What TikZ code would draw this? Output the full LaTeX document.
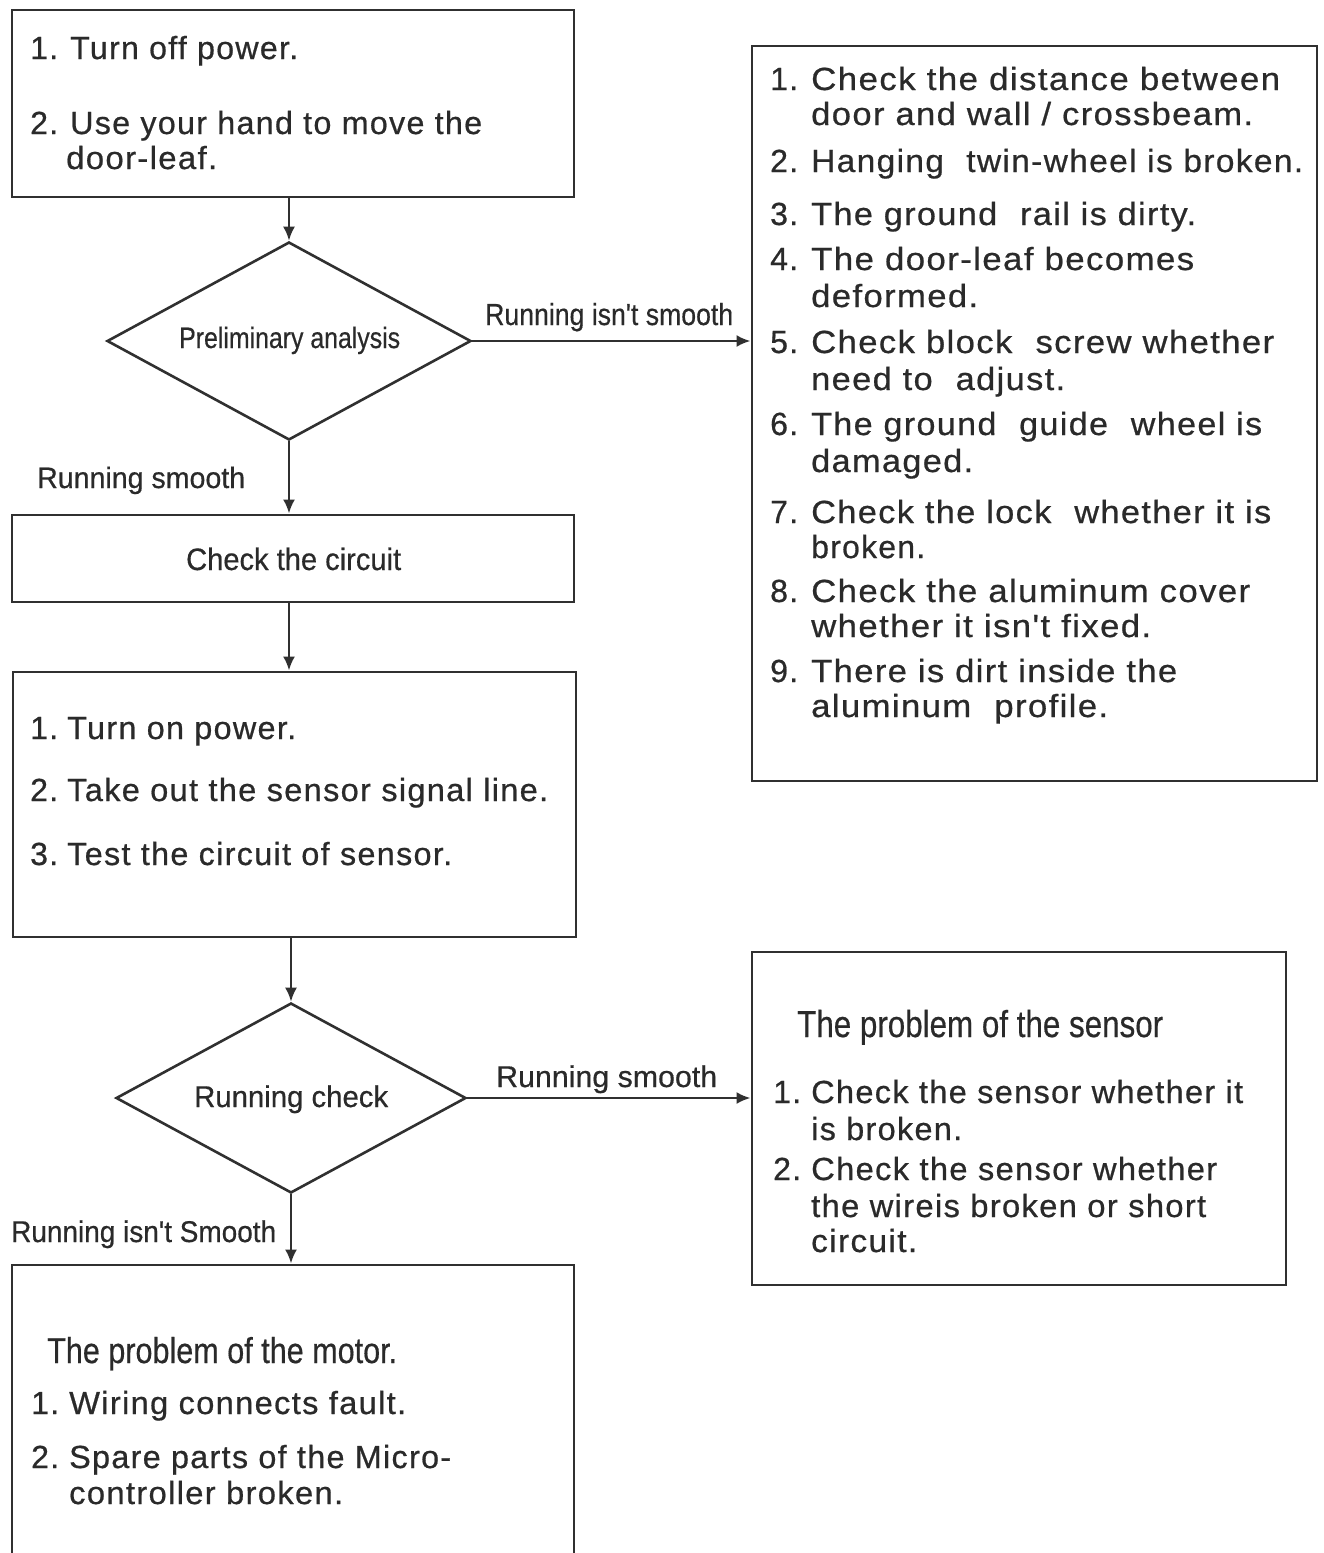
\documentclass[tikz,border=0pt]{standalone}
\usepackage{fontspec}
\usepackage{graphicx}
\setmainfont{Liberation Sans}
\newfontfamily\mainf[LetterSpace=4,FakeBold=0.6]{Liberation Sans}
\newfontfamily\lblf[FakeBold=0.5]{Liberation Sans}
\usetikzlibrary{shapes.geometric,arrows.meta,fit}
\definecolor{ink}{HTML}{2A2A2A}
\definecolor{edge}{HTML}{303030}
\newcommand\fw[2]{\resizebox{#1pt}{\height}{#2}}
\newcommand\lsz[1]{\lblf\fontsize{#1}{#1}\selectfont}
\begin{document}
\begin{tikzpicture}[x=1pt,y=-1pt,
  box/.style={draw=edge, line width=2.9pt, inner sep=0pt},
  dia/.style={diamond, draw=edge, line width=2.6pt, inner sep=0pt},
  arr/.style={draw=edge, line width=2.5pt, -{Latex[length=14pt,width=12pt]}},
  txt/.style={anchor=base west, inner sep=0pt, text=ink, font=\mainf\fontsize{32}{32}\selectfont},
  lbl/.style={anchor=base west, inner sep=0pt, text=ink}]
\path[use as bounding box] (0,0) rectangle (1323,1553);
\clip (0,0) rectangle (1323,1553);
\fill[white] (0,0) rectangle (1323,1553);

% boxes
\node[box, fit={(12,10) (574,197)}] (b1) {};
\node[dia, minimum width=364pt, minimum height=198pt] (d1) at (289,341) {};
\node[box, fit={(12,515) (574,602)}] (b2) {};
\node[box, fit={(13,672) (576,937)}] (b3) {};
\node[dia, minimum width=350pt, minimum height=190pt] (d2) at (291,1098) {};
\node[box, fit={(12,1265) (574,1600)}] (b6) {};
\node[box, fit={(752,46) (1317,781)}] (b4) {};
\node[box, fit={(752,952) (1286,1285)}] (b5) {};

% connectors
\draw[arr] (d1.north |- b1.south) -- (d1.north);
\draw[arr] (d1.south) -- (d1.south |- b2.north);
\draw[arr] (d1.south |- b2.south) -- (d1.south |- b3.north);
\draw[arr] (d2.north |- b3.south) -- (d2.north);
\draw[arr] (d2.south) -- (d2.south |- b6.north);
\draw[arr] (d1.east) -- (d1.east -| b4.west);
\draw[arr] (d2.east) -- (d2.east -| b5.west);

% labels
\node[lbl, font=\lsz{29.5}] (lpa) at (179,348) {\fw{221}{Preliminary analysis}};
\node[lbl, font=\lsz{30.5}] (lrn1) at (485,325) {\fw{248}{Running isn't smooth}};
\node[lbl, font=\lsz{29.5}] (lrs1) at (37,488) {\fw{208}{Running smooth}};
\node[lbl, font=\lsz{31}] (lcc) at (186,570) {\fw{215}{Check the circuit}};
\node[lbl, font=\lsz{30}] (lrc) at (194,1107) {\fw{194}{Running check}};
\node[lbl, font=\lsz{30}] (lrs2) at (496,1087) {\fw{221}{Running smooth}};
\node[lbl, font=\lsz{30}] (lrn2) at (11,1242) {\fw{265}{Running isn't Smooth}};
\node[lbl, font=\lsz{37.5}] (lps) at (797,1037) {\fw{366}{The problem of the sensor}};
\node[lbl, font=\lsz{36}] (lpm) at (47,1363) {\fw{350}{The problem of the motor.}};

% box 1 text
\node[txt] (a1n) at (30,59) {1.};
\node[txt] (a1t) at (70,59) {\fw{228}{Turn off power.}};
\node[txt] (a2n) at (30,134) {2.};
\node[txt] (a2t) at (70,134) {\fw{412}{Use your hand to move the}};
\node[txt] (a2u) at (66,169) {\fw{151}{door-leaf.}};

% box 4 text
\node[txt] (c1n) at (770,90) {1.};
\node[txt] (c1t) at (811,90) {\fw{469}{Check the distance between}};
\node[txt] (c1u) at (811,125) {\fw{442}{door and wall / crossbeam.}};
\node[txt] (c2n) at (770,172) {2.};
\node[txt] (c2t) at (811,172) {\fw{492}{Hanging\hspace{0.35em} twin-wheel is broken.}};
\node[txt] (c3n) at (770,225) {3.};
\node[txt] (c3t) at (811,225) {\fw{385}{The ground\hspace{0.35em} rail is dirty.}};
\node[txt] (c4n) at (770,270) {4.};
\node[txt] (c4t) at (811,270) {\fw{383}{The door-leaf becomes}};
\node[txt] (c4u) at (811,307) {\fw{167}{deformed.}};
\node[txt] (c5n) at (770,353) {5.};
\node[txt] (c5t) at (811,353) {\fw{463}{Check block\hspace{0.35em} screw whether}};
\node[txt] (c5u) at (811,390) {\fw{254}{need to\hspace{0.35em} adjust.}};
\node[txt] (c6n) at (770,435) {6.};
\node[txt] (c6t) at (811,435) {\fw{451}{The ground\hspace{0.35em} guide\hspace{0.35em} wheel is}};
\node[txt] (c6u) at (811,472) {\fw{162}{damaged.}};
\node[txt] (c7n) at (770,523) {7.};
\node[txt] (c7t) at (811,523) {\fw{460}{Check the lock\hspace{0.35em} whether it is}};
\node[txt] (c7u) at (811,558) {\fw{114}{broken.}};
\node[txt] (c8n) at (770,602) {8.};
\node[txt] (c8t) at (811,602) {\fw{439}{Check the aluminum cover}};
\node[txt] (c8u) at (811,637) {\fw{340}{whether it isn't fixed.}};
\node[txt] (c9n) at (770,682) {9.};
\node[txt] (c9t) at (811,682) {\fw{366}{There is dirt inside the}};
\node[txt] (c9u) at (811,717) {\fw{297}{aluminum\hspace{0.35em} profile.}};

% box 3 text
\node[txt] (e1n) at (30,739) {1.};
\node[txt] (e1t) at (67,739) {\fw{229}{Turn on power.}};
\node[txt] (e2n) at (30,801) {2.};
\node[txt] (e2t) at (67,801) {\fw{481}{Take out the sensor signal line.}};
\node[txt] (e3n) at (30,865) {3.};
\node[txt] (e3t) at (67,865) {\fw{385}{Test the circuit of sensor.}};

% box 5 text
\node[txt] (s1n) at (773,1103) {1.};
\node[txt] (s1t) at (811,1103) {\fw{432}{Check the sensor whether it}};
\node[txt] (s1u) at (811,1140) {\fw{151}{is broken.}};
\node[txt] (s2n) at (773,1180) {2.};
\node[txt] (s2t) at (811,1180) {\fw{406}{Check the sensor whether}};
\node[txt] (s2u) at (811,1217) {\fw{395}{the wireis broken or short}};
\node[txt] (s2v) at (811,1252) {\fw{106}{circuit.}};

% box 6 text
\node[txt] (m1n) at (31,1414) {1.};
\node[txt] (m1t) at (69,1414) {\fw{337}{Wiring connects fault.}};
\node[txt] (m2n) at (31,1468) {2.};
\node[txt] (m2t) at (69,1468) {\fw{382}{Spare parts of the Micro-}};
\node[txt] (m2u) at (69,1504) {\fw{274}{controller broken.}};
\end{tikzpicture}
\end{document}
